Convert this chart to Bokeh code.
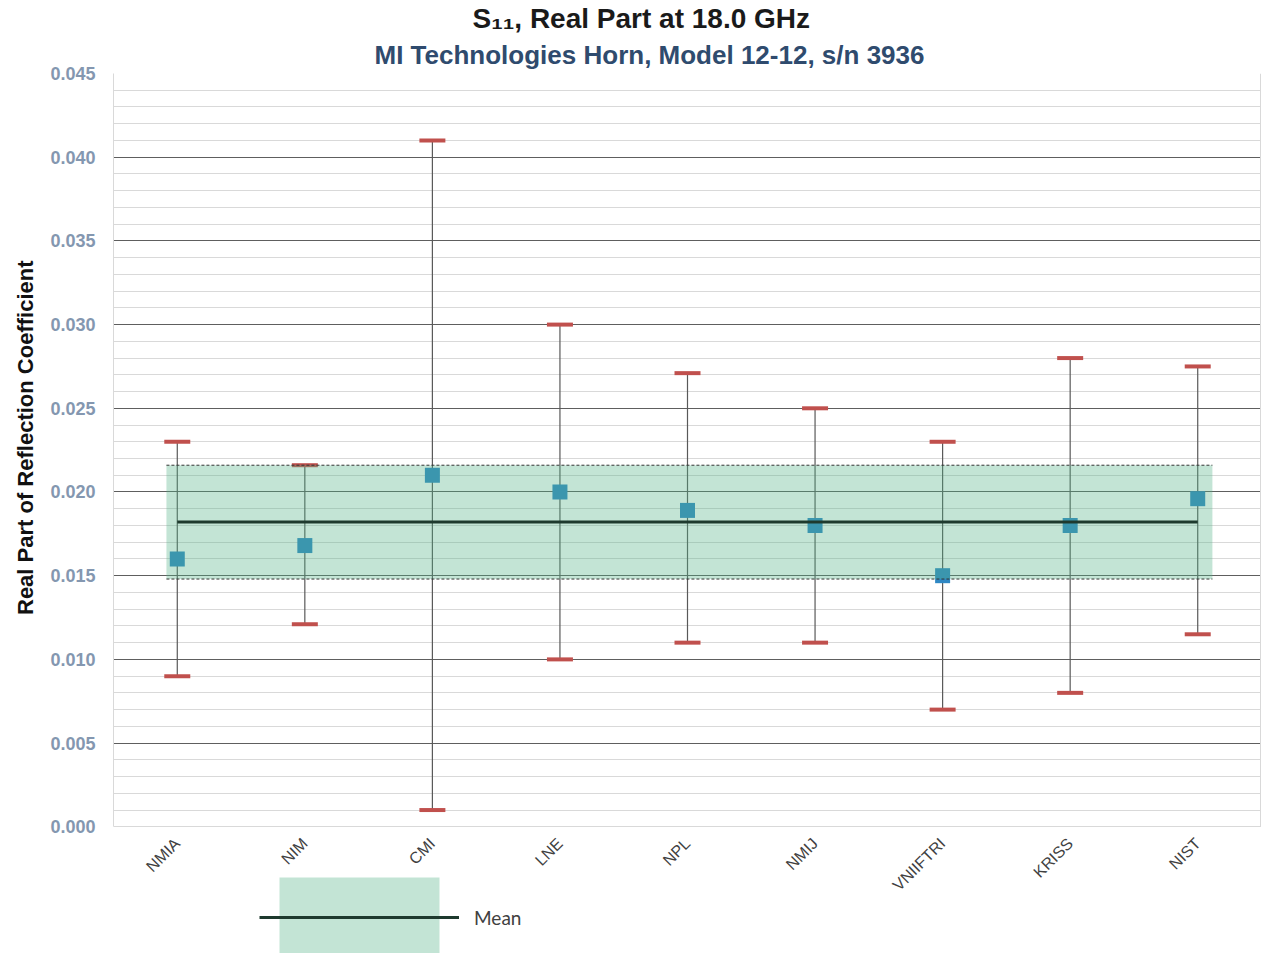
import math
from bokeh.plotting import figure
from bokeh.models import (FactorRange, Range1d, ColumnDataSource, SingleIntervalTicker,
                          FixedTicker, Grid, Title, Legend, LegendItem,
                          NumeralTickFormatter)
from bokeh.embed import file_html
from bokeh.resources import INLINE

# ---------------- data ----------------
labs = ["NMIA", "NIM", "CMI", "LNE", "NPL", "NMIJ", "VNIIFTRI", "KRISS", "NIST"]
values = [0.0160, 0.0168, 0.0210, 0.0200, 0.0189, 0.0180, 0.0150, 0.0180, 0.0196]
upper = [0.0230, 0.0216, 0.0410, 0.0300, 0.0271, 0.0250, 0.0230, 0.0280, 0.0275]
lower = [0.0090, 0.0121, 0.0010, 0.0100, 0.0110, 0.0110, 0.0070, 0.0080, 0.0115]
mean_value = 0.0182
band_lower = 0.0148
band_upper = 0.0216
y_min, y_max = 0.0, 0.045
title_text = "S\u2081\u2081, Real Part at 18.0 GHz"
subtitle_text = "MI Technologies Horn, Model 12-12, s/n 3936"
y_label = "Real Part of Reflection Coefficient"
legend_label = "Mean"

FONT = "Liberation Sans"
GRID_LIGHT = "#d9d9d9"

# plot area is 755 px tall for 0..0.045; the frame is extended below it
# so that the rotated category labels and the legend can sit under the data area
H_FIG, TOP, PLOT_H = 953, 71, 755
extra = (H_FIG - TOP - PLOT_H) / PLOT_H * (y_max - y_min)

p = figure(width=1261, height=H_FIG,
           x_range=FactorRange(*labs), y_range=Range1d(y_min - extra, y_max),
           output_backend="svg", toolbar_location=None,
           min_border_left=113, min_border_right=0,
           min_border_top=TOP, min_border_bottom=0)
p.background_fill_color = "white"
p.border_fill_color = "white"
p.outline_line_color = None

# ---------------- axes ----------------
ticker = SingleIntervalTicker(interval=0.005, num_minor_ticks=5)
p.yaxis.ticker = ticker
p.yaxis.bounds = (y_min, y_max)
p.yaxis.formatter = NumeralTickFormatter(format="0.000")
p.yaxis.major_label_text_font = FONT
p.yaxis.major_label_text_font_style = "bold"
p.yaxis.major_label_text_font_size = "18px"
p.yaxis.major_label_text_color = "#8497b0"
p.yaxis.major_label_standoff = 14
p.yaxis.axis_line_color = GRID_LIGHT
p.yaxis.major_tick_line_color = None
p.yaxis.minor_tick_line_color = None
p.yaxis.major_tick_out = 0
p.yaxis.major_tick_in = 0

# y-axis title, anchored to the top of the data area
p.add_layout(Title(text=y_label, align="right", offset=187, standoff=20,
                   text_font=FONT, text_font_style="bold", text_font_size="22px",
                   text_color="#111111"), "left")

p.xaxis.fixed_location = y_min
p.xaxis.major_label_orientation = math.pi / 4
p.xaxis.major_label_text_font = FONT
p.xaxis.major_label_text_font_size = "16px"
p.xaxis.major_label_text_color = "#404040"
p.xaxis.major_label_standoff = 14
p.xaxis.axis_line_color = GRID_LIGHT
p.xaxis.major_tick_line_color = None
p.xaxis.major_tick_out = 0
p.xaxis.major_tick_in = 0

# ---------------- grids ----------------
p.xgrid.grid_line_color = None
p.ygrid.ticker = ticker
p.ygrid.bounds = (y_min, y_max)
p.ygrid.grid_line_color = None
p.ygrid.minor_grid_line_color = GRID_LIGHT
p.ygrid.minor_grid_line_width = 1
major_grid = Grid(dimension=1, ticker=ticker, bounds=(0.004, 0.041),
                  grid_line_color="#5e5e5e", grid_line_width=1,
                  minor_grid_line_color=None)
p.add_layout(major_grid, "center")
top_edge = Grid(dimension=1, ticker=FixedTicker(ticks=[y_max]),
                grid_line_color=GRID_LIGHT, grid_line_width=1)
p.add_layout(top_edge, "center")
right_edge = Grid(dimension=0, ticker=FixedTicker(ticks=[len(labs) - 0.004]),
                  cross_bounds=(y_min, y_max),
                  grid_line_color=GRID_LIGHT, grid_line_width=1)
p.add_layout(right_edge, "center")

# ---------------- glyphs ----------------
src = ColumnDataSource(dict(lab=labs, val=values, up=upper, lo=lower))
p.segment(x0="lab", y0="lo", x1="lab", y1="up", source=src,
          line_color="#595959", line_width=1.2)
p.scatter(x="lab", y="val", source=src, marker="square", size=15,
          fill_color="#2f88c4", line_color=None)
cap_src = ColumnDataSource(dict(x=labs + labs, y=upper + lower))
p.rect(x="x", y="y", width=26, height=4, width_units="screen", height_units="screen",
       source=cap_src, fill_color="#c0504d", line_color=None)

band_src = ColumnDataSource(dict(
    left=[(labs[0], -0.085)], right=[(labs[-1], 0.115)],
    bottom=[band_lower], top=[band_upper]))
band_r = p.quad(left="left", right="right", bottom="bottom", top="top", source=band_src,
                fill_color="#54b287", fill_alpha=0.35, line_color=None)

edge_src = ColumnDataSource(dict(
    x0=[(labs[0], -0.085)] * 2, x1=[(labs[-1], 0.115)] * 2,
    y=[band_lower, band_upper]))
p.segment(x0="x0", y0="y", x1="x1", y1="y", source=edge_src,
          line_color="#333333", line_width=1, line_dash="3 2")

mean_src = ColumnDataSource(dict(x=[labs[0], labs[-1]], y=[mean_value, mean_value]))
mean_r = p.line(x="x", y="y", source=mean_src, line_color="#1e3a2e", line_width=3)

# ---------------- legend ----------------
legend = Legend(items=[LegendItem(label=legend_label, renderers=[band_r, mean_r])],
                location=(146, -14), glyph_width=200, glyph_height=100,
                label_standoff=15, padding=0, margin=0, spacing=0,
                border_line_alpha=0, background_fill_alpha=0,
                label_text_font="Lato", label_text_font_size="19px",
                label_text_color="#404040")
p.add_layout(legend)

# ---------------- titles ----------------
p.add_layout(Title(text=subtitle_text, align="left", offset=261, standoff=8,
                   text_font=FONT, text_font_style="bold", text_font_size="26px",
                   text_color="#2f4b6e"), "above")
p.add_layout(Title(text=title_text, align="left", offset=359, standoff=0,
                   text_font=FONT, text_font_style="bold", text_font_size="28px",
                   text_color="#1a1a1a"), "above")

open("out.html", "w").write(file_html(p, INLINE))
